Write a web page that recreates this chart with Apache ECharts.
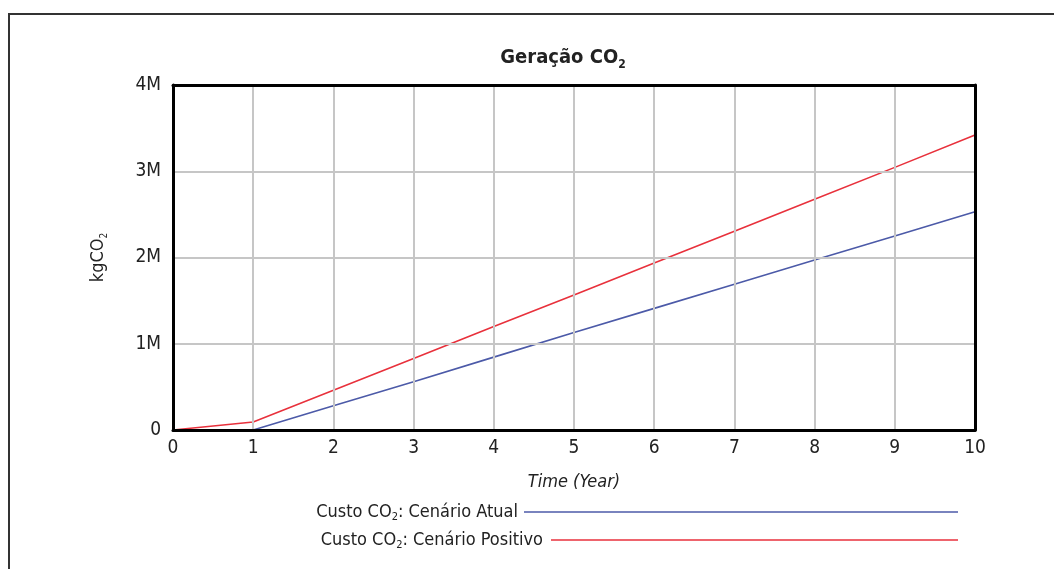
<!DOCTYPE html>
<html><head><meta charset="utf-8">
<script src="https://cdn.jsdelivr.net/npm/echarts@6/dist/echarts.min.js"></script>
<style>html,body{margin:0;padding:0;background:#fff}#c{width:1054px;height:569px}</style>
</head><body><div id="c"></div>
<script>
const years = [0,1,2,3,4,5,6,7,8,9,10];
const atual = [0,0,280000,560000,845000,1130000,1410000,1690000,1970000,2250000,2530000];
const positivo = [0,93000,460000,830000,1200000,1565000,1935000,2305000,2675000,3045000,3420000];
const yTicks = ['0','1M','2M','3M','4M'];
const colors = ['#4c5aa8','#e8313c'];
const FONT = "'Liberation Sans Narrow','DejaVu Sans Condensed','Open Sans',sans-serif";

const chart = echarts.init(document.getElementById('c'));
const txtA = {fontSize:18, fill:'#222', fontFamily:FONT};
const txtB = {fontSize:11, fill:'#222', fontFamily:FONT, verticalAlign:'bottom', padding:[0,0,-2,0]};
chart.setOption({
  animation:false,
  backgroundColor:'#fff',
  textStyle:{fontFamily:FONT},
  grid:{left:173, top:85, right:79, bottom:139},
  xAxis:[{type:'value', min:0, max:10, interval:1,
    name:'Time (Year)', nameLocation:'middle', nameGap:43,
    nameTextStyle:{fontStyle:'italic', fontSize:18, color:'#222', fontFamily:FONT},
    axisLine:{lineStyle:{color:'#000', width:3}}, axisTick:{show:false},
    axisLabel:{fontSize:19, color:'#222', margin:9, fontFamily:FONT},
    splitLine:{lineStyle:{color:'#c6c6c6', width:2}}, z:5},
    {type:'value', position:'top', min:0, max:10, axisLine:{show:true, onZero:false, lineStyle:{color:'#000', width:3}},
     axisTick:{show:false}, axisLabel:{show:false}, splitLine:{show:false}, z:5}],
  yAxis:[{type:'value', min:0, max:4000000, interval:1000000,
    name:'{a|kgCO}{b|2}', nameLocation:'middle', nameGap:66, nameRotate:90,
    nameTextStyle:{rich:{a:{fontSize:18, color:'#222', fontFamily:FONT}, b:{fontSize:10, color:'#222', fontFamily:FONT, verticalAlign:'bottom', padding:[0,0,-2,0]}}},
    axisLine:{show:true, onZero:false, lineStyle:{color:'#000', width:3}}, axisTick:{show:false},
    axisLabel:{fontSize:19, color:'#222', margin:12, fontFamily:FONT, formatter:(v)=>yTicks[Math.round(v/1000000)]},
    splitLine:{lineStyle:{color:'#c6c6c6', width:2}}, z:5},
    {type:'value', position:'right', min:0, max:4000000, axisLine:{show:true, onZero:false, lineStyle:{color:'#000', width:3}},
     axisTick:{show:false}, axisLabel:{show:false}, splitLine:{show:false}, z:5}],
  series:[
    {name:'Custo CO₂: Cenário Atual', type:'line', data:years.map((x,i)=>[x,atual[i]]), showSymbol:false, lineStyle:{color:colors[0], width:1.6}, itemStyle:{color:colors[0]}, z:3},
    {name:'Custo CO₂: Cenário Positivo', type:'line', data:years.map((x,i)=>[x,positivo[i]]), showSymbol:false, lineStyle:{color:colors[1], width:1.6}, itemStyle:{color:colors[1]}, z:4}
  ],
  graphic:[
    {type:'polyline', shape:{points:[[9,569],[9,14],[1054,14]]}, style:{stroke:'#333', lineWidth:2, fill:null}, silent:true},
    {type:'text', x:563, y:58, style:{text:'{a|Geração CO}{b|2}', align:'center', verticalAlign:'middle', rich:{a:{fontSize:20, fontWeight:'bold', fill:'#222', fontFamily:FONT}, b:{fontSize:12, fontWeight:'bold', fill:'#222', fontFamily:FONT, verticalAlign:'bottom', padding:[0,0,-3,0]}}}},
    {type:'text', x:518, y:512, style:{text:'{a|Custo CO}{b|2}{a|: Cenário Atual}', align:'right', verticalAlign:'middle', rich:{a:txtA, b:txtB}}},
    {type:'line', shape:{x1:524, y1:512, x2:958, y2:512}, style:{stroke:colors[0], lineWidth:1.6}},
    {type:'text', x:543, y:540, style:{text:'{a|Custo CO}{b|2}{a|: Cenário Positivo}', align:'right', verticalAlign:'middle', rich:{a:txtA, b:txtB}}},
    {type:'line', shape:{x1:551, y1:540, x2:958, y2:540}, style:{stroke:colors[1], lineWidth:1.6}}
  ]
});
</script></body></html>
